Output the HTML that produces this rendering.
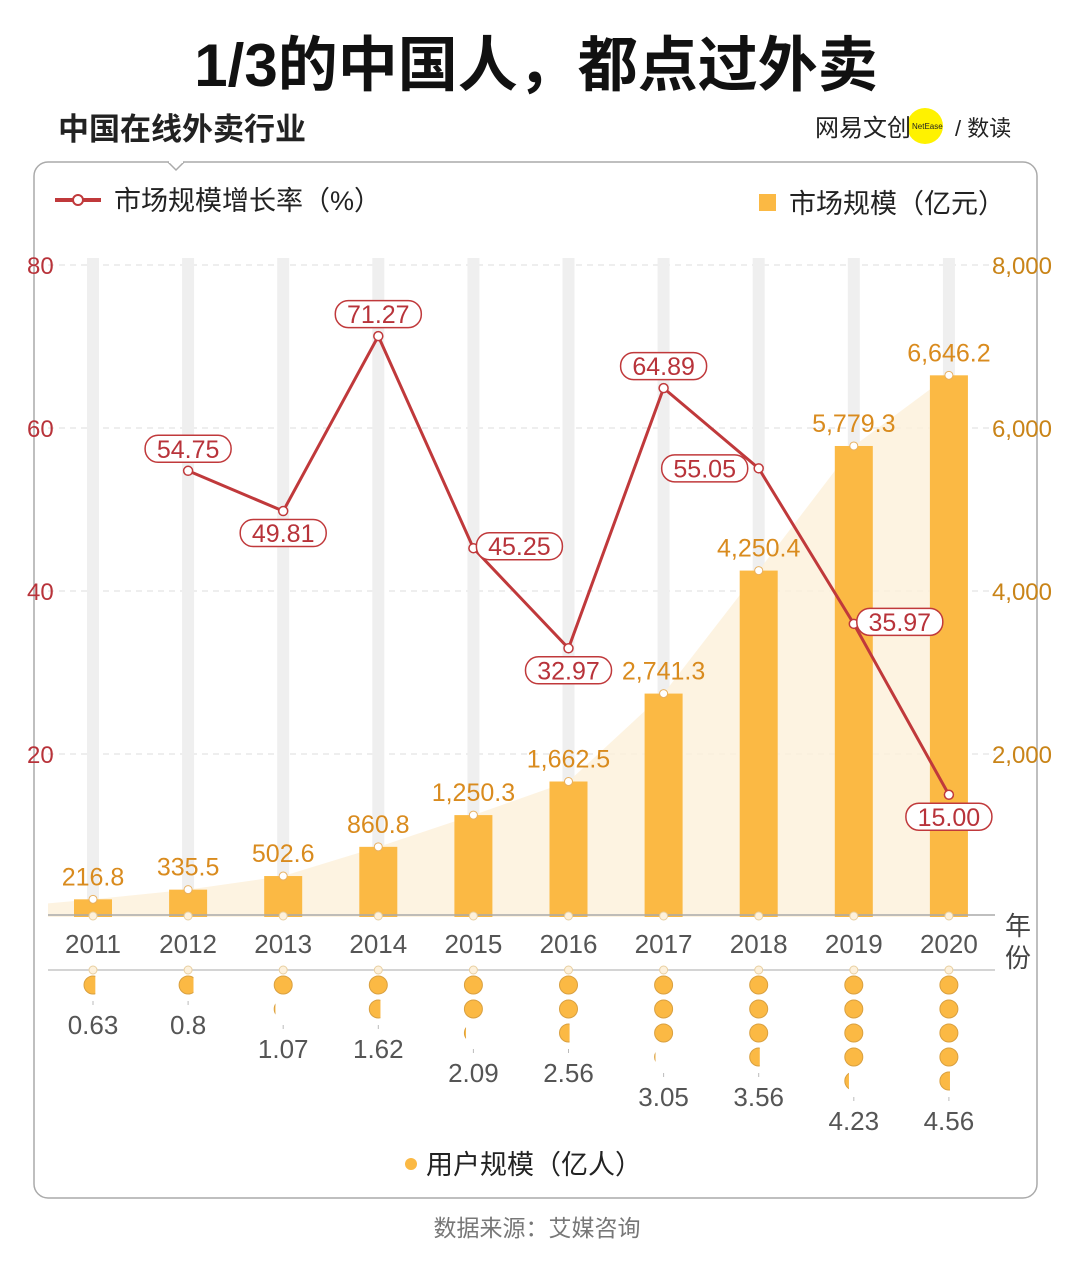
<!DOCTYPE html>
<html><head><meta charset="utf-8">
<style>
body{margin:0;background:#fff;}
svg{display:block;font-family:"Liberation Sans","Noto Sans CJK SC",sans-serif;}
</style></head>
<body>
<svg id="chart" width="1080" height="1274" viewBox="0 0 1080 1274" xmlns="http://www.w3.org/2000/svg">
<text x="536" y="86" text-anchor="middle" font-size="60" font-weight="bold" fill="#111">1/3的中国人，都点过外卖</text>
<rect x="34" y="162" width="1003" height="1036" rx="14" fill="none" stroke="#aaa" stroke-width="1.5"/>
<path d="M168 162 L176 170 L184 162" fill="#fff" stroke="#aaa" stroke-width="1.5"/>
<line x1="169" y1="162" x2="183" y2="162" stroke="#fff" stroke-width="2"/>
<text x="58" y="140" font-size="31" fill="#222" font-weight="bold">中国在线外卖行业</text>
<g>
<circle cx="925" cy="126" r="18" fill="#fff200"/>
<text x="815" y="136" font-size="24" fill="#222">网易文创</text>
<text x="912" y="129" font-size="8" fill="#222">NetEase</text>
<text x="955" y="136" font-size="22" fill="#222">/ 数读</text>
</g>
<g>
<line x1="55" y1="200" x2="101" y2="200" stroke="#c0393b" stroke-width="4"/>
<circle cx="78" cy="200" r="5" fill="#fff" stroke="#c0393b" stroke-width="2"/>
<text x="114" y="210" font-size="27" fill="#222">市场规模增长率（%）</text>
</g>
<g>
<rect x="759" y="194" width="17" height="17" fill="#fbb944"/>
<text x="789" y="213" font-size="27" fill="#222">市场规模（亿元）</text>
</g>
<g id="plot"></g>
<text x="1005" y="935" font-size="26" fill="#444">年</text>
<text x="1005" y="967" font-size="26" fill="#444">份</text>
<g>
<circle cx="411" cy="1164" r="6" fill="#fbb944"/>
<text x="426" y="1174" font-size="27" fill="#222">用户规模（亿人）</text>
</g>
<text x="537" y="1236" text-anchor="middle" font-size="23" fill="#777">数据来源：艾媒咨询</text>
</svg>
<script>
const years=["2011","2012","2013","2014","2015","2016","2017","2018","2019","2020"];
const market=[216.8,335.5,502.6,860.8,1250.3,1662.5,2741.3,4250.4,5779.3,6646.2];
const marketLabels=["216.8","335.5","502.6","860.8","1,250.3","1,662.5","2,741.3","4,250.4","5,779.3","6,646.2"];
const growth=[null,54.75,49.81,71.27,45.25,32.97,64.89,55.05,35.97,15.00];
const growthLabels=["","54.75","49.81","71.27","45.25","32.97","64.89","55.05","35.97","15.00"];
const growthPlacement=["","a","b","a","r","b","a","l","r","b"];
const users=[0.63,0.8,1.07,1.62,2.09,2.56,3.05,3.56,4.23,4.56];
const userLabels=["0.63","0.8","1.07","1.62","2.09","2.56","3.05","3.56","4.23","4.56"];
const leftTicks=[20,40,60,80];
const rightTicks=[2000,4000,6000,8000];
const rightTickLabels=["2,000","4,000","6,000","8,000"];

const NS="http://www.w3.org/2000/svg";
const g=document.getElementById('plot');
function el(t,a,p){const e=document.createElementNS(NS,t);for(const k in a)e.setAttribute(k,a[k]);(p||g).appendChild(e);return e;}
const x=i=>93+i*95.1;
const yL=v=>917-v*(652/80);
const yR=v=>917-v*(652/8000);

leftTicks.forEach((t,i)=>{
 const l=el('line',{x1:48,x2:995,y1:yL(t),y2:yL(t),stroke:'#ddd','stroke-dasharray':'6,5'});
 
 
 const a=el('text',{x:27,y:yL(t)+9,'font-size':24,fill:'#b8333a'});a.textContent=t;
 
 
 const b=el('text',{x:1052,y:yR(rightTicks[i])+9,'font-size':24,fill:'#c98418','text-anchor':'end'});b.textContent=rightTickLabels[i];
 
 
});
years.forEach((y,i)=>{
 const s=el('rect',{x:x(i)-6,y:258,width:12,height:659,fill:'#efefef'});
 
 
});
let d='M48 917 L48 '+(yR(market[0])+4);
market.forEach((v,i)=>{d+=' L'+x(i)+' '+yR(v);});
d+=' L968 '+yR(market[9])+' L968 917 Z';
const area=el('path',{d:d,fill:'#fdf1dc',opacity:0.85});


market.forEach((v,i)=>{
 const r=el('rect',{x:x(i)-19,y:yR(v),width:38,height:917-yR(v),fill:'#fbb944'});
 
 
 el('circle',{cx:x(i),cy:yR(v),r:4,fill:'#fff',stroke:'#e8b060'});
 const t=el('text',{x:x(i),y:yR(v)-14,'font-size':25,fill:'#d98b1e','text-anchor':'middle'});t.textContent=marketLabels[i];
 
 
});
const ax=el('line',{x1:48,x2:995,y1:915,y2:915,stroke:'#aaa','stroke-width':1.5});


const ax2=el('line',{x1:48,x2:995,y1:970,y2:970,stroke:'#bbb','stroke-width':1.2});


years.forEach((y,i)=>{
 el('circle',{cx:x(i),cy:916,r:4,fill:'#fdf1dc',stroke:'#e8cfa0'});
 el('circle',{cx:x(i),cy:970,r:4,fill:'#fdf1dc',stroke:'#e8cfa0'});
 const t=el('text',{x:x(i),y:953,'font-size':26,fill:'#555','text-anchor':'middle'});t.textContent=y;
 
 
});
let pd='';
growth.forEach((v,i)=>{if(v==null)return;pd+=(pd?' L':'M')+x(i)+' '+yL(v);});
const ln=el('path',{d:pd,fill:'none',stroke:'#c0393b','stroke-width':3});


growth.forEach((v,i)=>{
 if(v==null)return;
 const c=el('circle',{cx:x(i),cy:yL(v),r:4.5,fill:'#fff',stroke:'#c0393b','stroke-width':1.5});
 
 
 const p=growthPlacement[i];let cx=x(i),cy=yL(v);
 if(p==='a')cy-=22;else if(p==='b')cy+=22;else if(p==='r'){cx+=46;cy-=2;}else if(p==='l'){cx-=54;}
 const w=86,h=27;
 const bx=el('rect',{x:cx-w/2,y:cy-h/2,width:w,height:h,rx:13,fill:'#fff',stroke:'#c0393b','stroke-width':1.5});
 
 
 const t=el('text',{x:cx,y:cy+9,'font-size':25,fill:'#b8333a','text-anchor':'middle'});t.textContent=growthLabels[i];
 
 
});
const defs=el('defs',{});
users.forEach((v,i)=>{
 const n=Math.floor(v),f=v-n,R=9;
 for(let k=0;k<n;k++){
  const c=el('circle',{cx:x(i),cy:985+k*24,r:R,fill:'#fbb944',stroke:'#d9a040','stroke-width':1});
  
  
 }
 const py=985+n*24;
 const cp=el('clipPath',{id:'cp'+i},defs);
 el('rect',{x:x(i)-R-1,y:py-R-1,width:f*2*R+1,height:2*R+2},cp);
 const pc=el('circle',{cx:x(i),cy:py,r:R,fill:'#fbb944',stroke:'#d9a040','stroke-width':1,'clip-path':'url(#cp'+i+')'});
 
 
 el('line',{x1:x(i),x2:x(i),y1:py+16,y2:py+20,stroke:'#bbb'});
 const t=el('text',{x:x(i),y:py+49,'font-size':26,fill:'#555','text-anchor':'middle'});t.textContent=userLabels[i];
 
 
});
</script>
</body></html>
